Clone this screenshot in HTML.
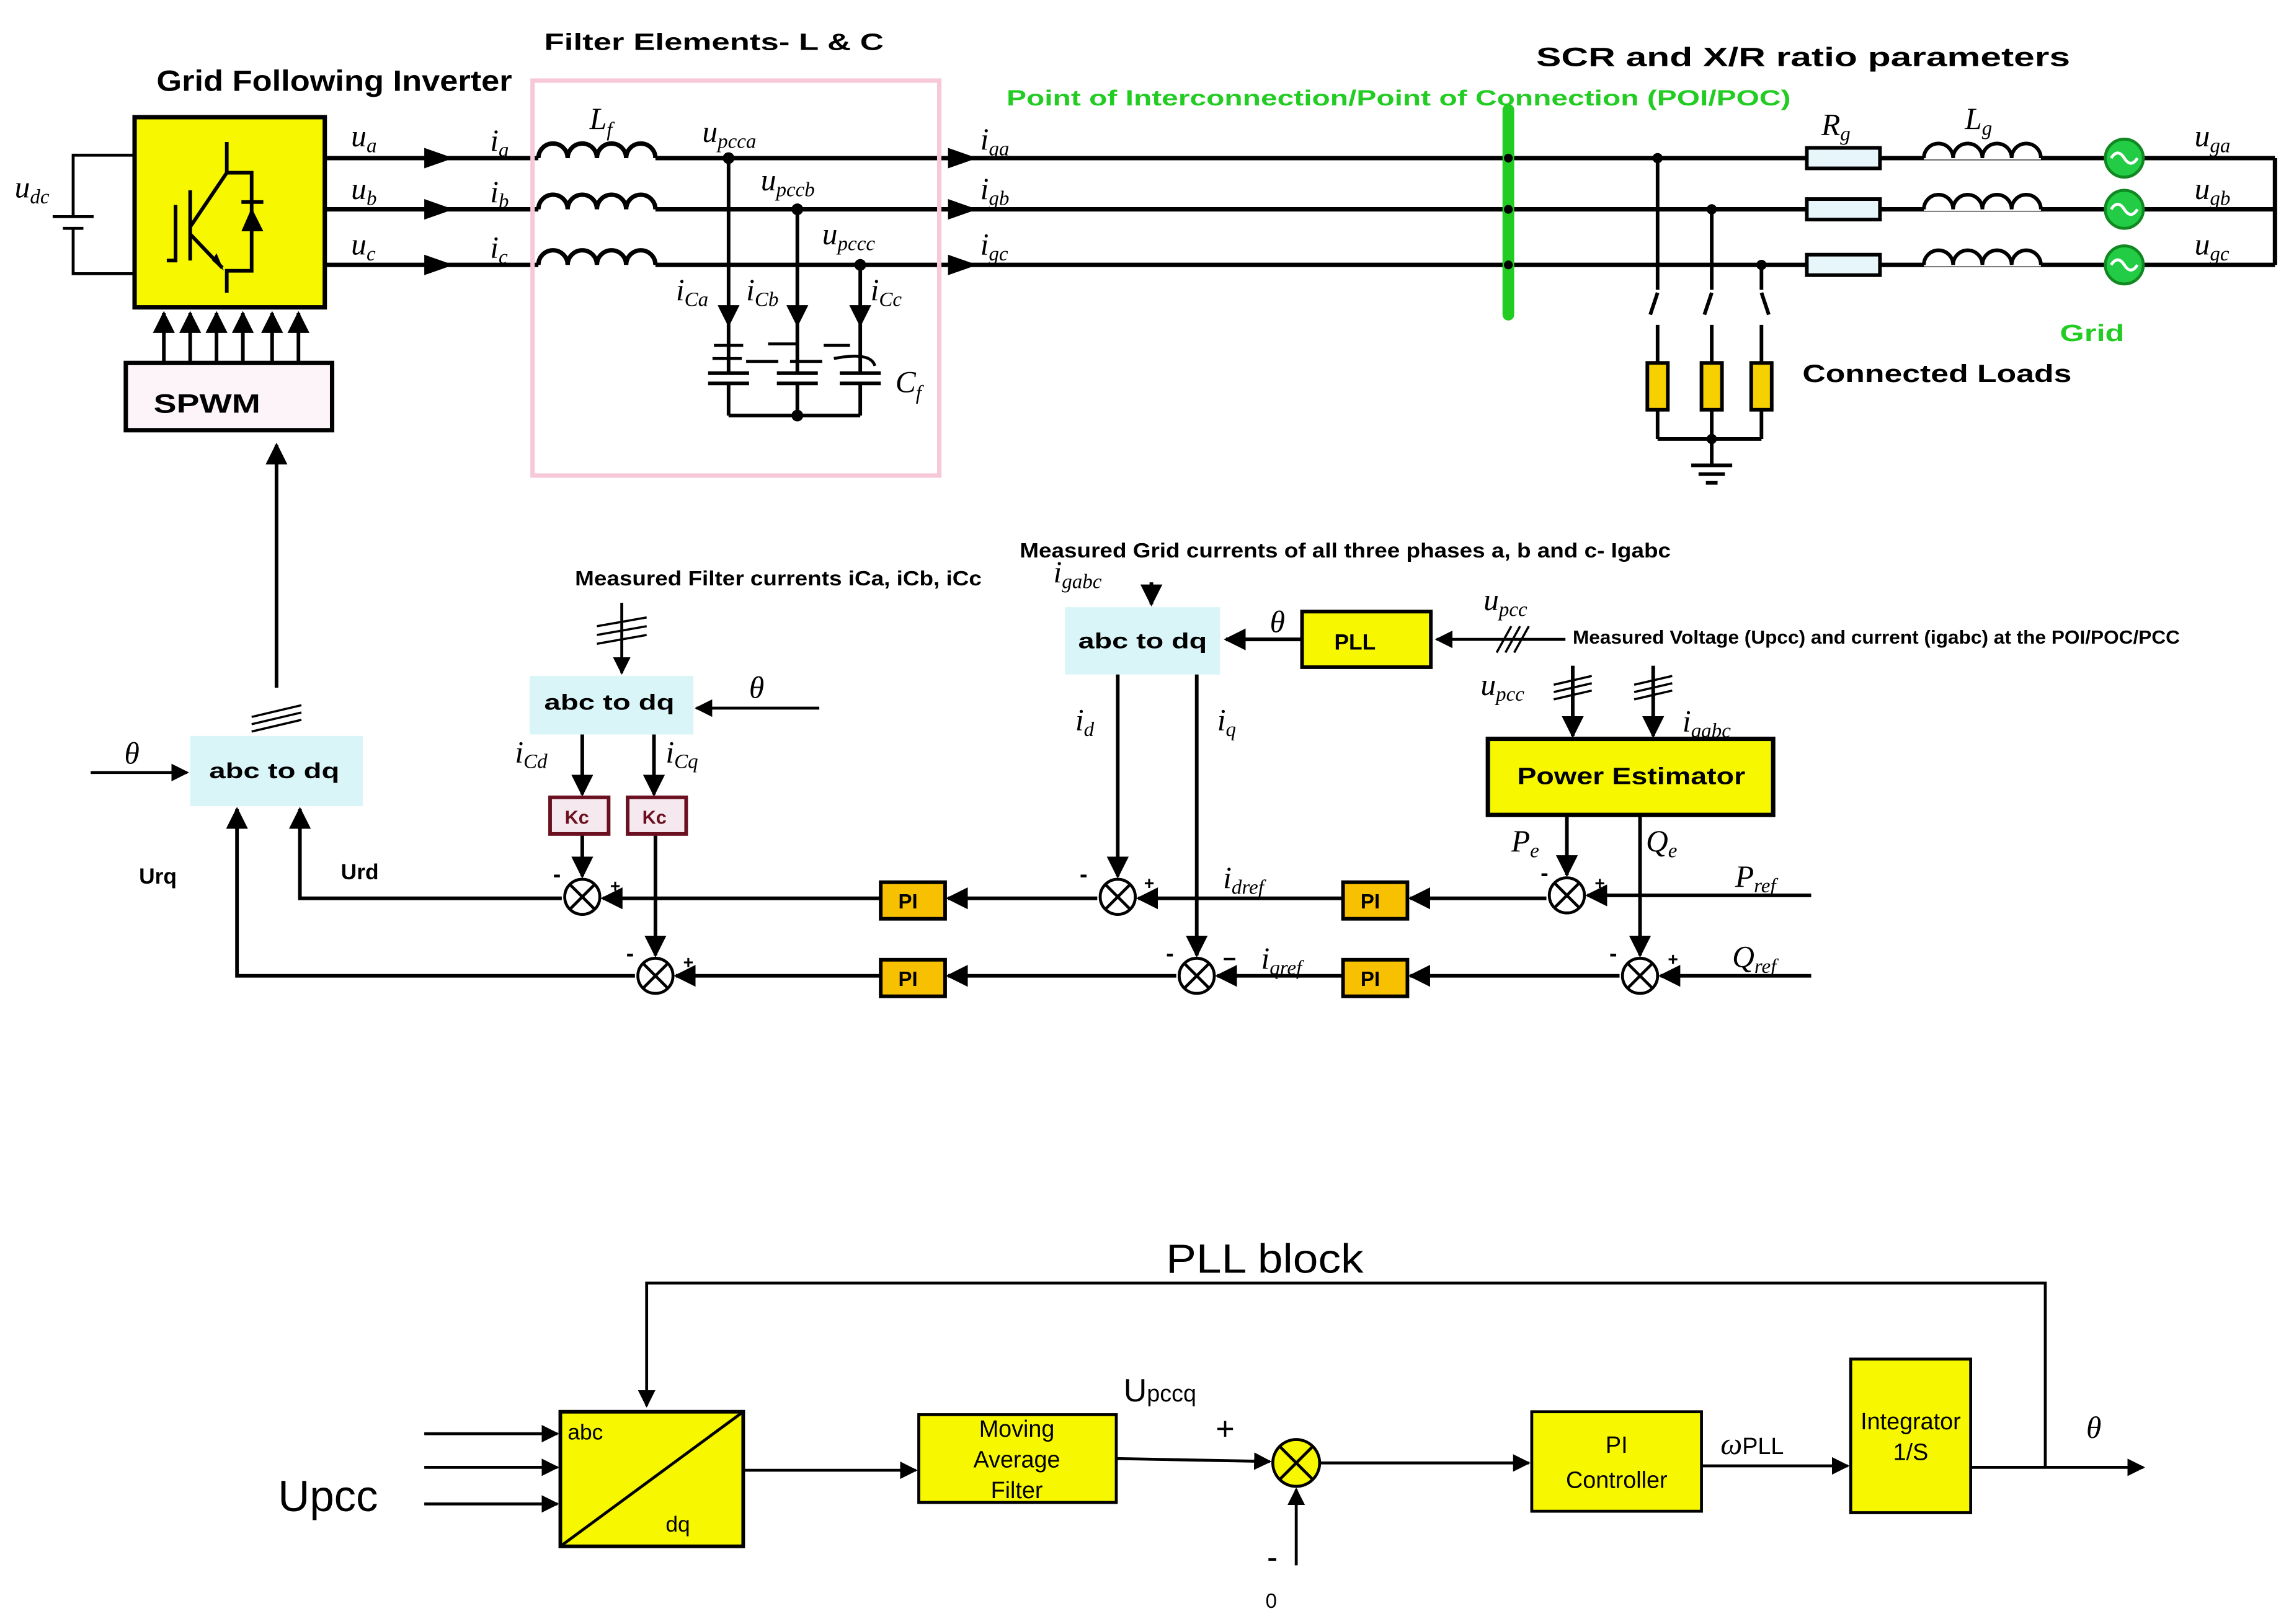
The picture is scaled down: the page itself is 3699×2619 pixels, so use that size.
<!DOCTYPE html>
<html><head><meta charset="utf-8"><style>
html,body{margin:0;padding:0;background:#fff;}
svg{display:block;}
text{font-family:"Liberation Sans",sans-serif;}
.m{font-family:"Liberation Serif",serif;font-style:italic;font-size:21px;}
.b{font-weight:bold;}
</style></head><body>
<svg width="3699" height="2619" viewBox="0 0 1568 1110" xmlns="http://www.w3.org/2000/svg">
<defs>
<marker id="a" viewBox="0 0 10 10" refX="9" refY="5" markerWidth="6" markerHeight="6" orient="auto-start-reverse"><path d="M0,0L10,5L0,10z" fill="#000"/></marker>
</defs>
<rect width="1568" height="1110" fill="#fff"/>
<!-- Titles -->
<text x="107" y="62" font-size="20" class="b" textLength="243" lengthAdjust="spacingAndGlyphs">Grid Following Inverter</text>
<text x="372" y="34" font-size="16" class="b" textLength="232" lengthAdjust="spacingAndGlyphs">Filter Elements- L &amp; C</text>
<text x="1050" y="45" font-size="18" class="b" textLength="365" lengthAdjust="spacingAndGlyphs">SCR and X/R ratio parameters</text>
<text x="688" y="72" font-size="15" class="b" fill="#22cc22" textLength="536" lengthAdjust="spacingAndGlyphs">Point of Interconnection/Point of Connection (POI/POC)</text>
<!-- DC side -->
<g stroke="#000" stroke-width="2" fill="none">
<polyline points="92,106 50,106 50,148"/><polyline points="50,156 50,187 92,187"/>
<line x1="36" y1="148" x2="64" y2="148"/><line x1="43" y1="156" x2="57" y2="156"/>
</g>
<text x="10" y="135" class="m">u<tspan font-size="14" dy="4">dc</tspan></text>
<!-- Inverter -->
<rect x="92" y="80" width="130" height="130" fill="#f7f700" stroke="#000" stroke-width="3"/>
<g stroke="#000" stroke-width="2.5" fill="none">
<polyline points="155,97 155,118 172,118 172,185 155,185 155,200"/>
<line x1="155" y1="118" x2="130" y2="155"/><line x1="130" y1="130" x2="130" y2="178"/>
<polyline points="120,140 120,178 114,178"/>
<line x1="130" y1="160" x2="152" y2="183"/>
<line x1="165" y1="138" x2="180" y2="138"/>
</g>
<path d="M165,158 L180,158 L172,142z" fill="#000"/>
<path d="M145,178 L153,185 L148,173z" fill="#000"/>
<!-- Phase lines -->
<g stroke="#000" stroke-width="3" fill="none">
<line x1="222" y1="108" x2="368" y2="108"/><line x1="222" y1="143" x2="368" y2="143"/><line x1="222" y1="181" x2="368" y2="181"/>
<path d="M368,108 a10,10 0 0 1 20,0 a10,10 0 0 1 20,0 a10,10 0 0 1 20,0 a10,10 0 0 1 20,0 M448,108 L1555,108"/>
<path d="M368,143 a10,10 0 0 1 20,0 a10,10 0 0 1 20,0 a10,10 0 0 1 20,0 a10,10 0 0 1 20,0 M448,143 L1555,143"/>
<path d="M368,181 a10,10 0 0 1 20,0 a10,10 0 0 1 20,0 a10,10 0 0 1 20,0 a10,10 0 0 1 20,0 M448,181 L1555,181"/>
<line x1="1555" y1="108" x2="1555" y2="181"/>
</g>
<g fill="#000">
<path d="M290,101L310,108L290,115z"/><path d="M290,136L310,143L290,150z"/><path d="M290,174L310,181L290,188z"/>
<path d="M648,101L668,108L648,115z"/><path d="M648,136L668,143L648,150z"/><path d="M648,174L668,181L648,188z"/>
</g>
<text x="240" y="100" class="m">u<tspan font-size="14" dy="4">a</tspan></text>
<text x="240" y="136" class="m">u<tspan font-size="14" dy="4">b</tspan></text>
<text x="240" y="174" class="m">u<tspan font-size="14" dy="4">c</tspan></text>
<text x="335" y="103" class="m">i<tspan font-size="14" dy="4">a</tspan></text>
<text x="335" y="138" class="m">i<tspan font-size="14" dy="4">b</tspan></text>
<text x="335" y="176" class="m">i<tspan font-size="14" dy="4">c</tspan></text>
<!-- Filter box -->
<rect x="364" y="55" width="278" height="270" fill="none" stroke="#f6c8d8" stroke-width="3"/>
<text x="403" y="88" class="m" font-size="23">L<tspan font-size="14" dy="5">f</tspan></text>
<text x="480" y="97" class="m">u<tspan font-size="14" dy="4">pcca</tspan></text>
<text x="520" y="130" class="m">u<tspan font-size="14" dy="4">pccb</tspan></text>
<text x="562" y="167" class="m">u<tspan font-size="14" dy="4">pccc</tspan></text>
<g stroke="#000" stroke-width="2.5" fill="none">
<line x1="498" y1="108" x2="498" y2="222" marker-end="url(#a)"/><line x1="498" y1="222" x2="498" y2="255"/>
<line x1="545" y1="143" x2="545" y2="222" marker-end="url(#a)"/><line x1="545" y1="222" x2="545" y2="255"/>
<line x1="588" y1="181" x2="588" y2="222" marker-end="url(#a)"/><line x1="588" y1="222" x2="588" y2="255"/>
<line x1="498" y1="262" x2="498" y2="284"/><line x1="545" y1="262" x2="545" y2="284"/><line x1="588" y1="262" x2="588" y2="284"/>
<line x1="498" y1="284" x2="588" y2="284"/>
<line x1="484" y1="255" x2="512" y2="255"/><line x1="484" y1="262" x2="512" y2="262"/>
<line x1="531" y1="255" x2="559" y2="255"/><line x1="531" y1="262" x2="559" y2="262"/>
<line x1="574" y1="255" x2="602" y2="255"/><line x1="574" y1="262" x2="602" y2="262"/>
<path d="M488,236h20M525,235h20M563,236h18M487,245h20M510,247h22M540,247h22M570,245q25,-5 28,5" stroke-width="2"/>
</g>
<g fill="#000"><circle cx="498" cy="108" r="4"/><circle cx="545" cy="143" r="4"/><circle cx="588" cy="181" r="4"/><circle cx="545" cy="284" r="4"/></g>
<text x="462" y="205" class="m">i<tspan font-size="14" dy="4">Ca</tspan></text>
<text x="510" y="205" class="m">i<tspan font-size="14" dy="4">Cb</tspan></text>
<text x="595" y="205" class="m">i<tspan font-size="14" dy="4">Cc</tspan></text>
<text x="612" y="268" class="m" font-size="23">C<tspan font-size="14" dy="5">f</tspan></text>
<text x="670" y="102" class="m">i<tspan font-size="14" dy="4">ga</tspan></text>
<text x="670" y="136" class="m">i<tspan font-size="14" dy="4">gb</tspan></text>
<text x="670" y="174" class="m">i<tspan font-size="14" dy="4">gc</tspan></text>
<!-- POI bar -->
<line x1="1031" y1="75" x2="1031" y2="215" stroke="#22cc22" stroke-width="8" stroke-linecap="round"/>
<g fill="#000"><circle cx="1031" cy="108" r="3"/><circle cx="1031" cy="143" r="3"/><circle cx="1031" cy="181" r="3"/></g>
<!-- Loads -->
<g stroke="#000" stroke-width="2.5" fill="none">
<line x1="1133" y1="108" x2="1133" y2="198"/><line x1="1170" y1="143" x2="1170" y2="198"/><line x1="1204" y1="181" x2="1204" y2="198"/>
<line x1="1133" y1="200" x2="1128" y2="215"/><line x1="1170" y1="200" x2="1165" y2="215"/><line x1="1204" y1="200" x2="1209" y2="215"/>
<line x1="1133" y1="222" x2="1133" y2="248"/><line x1="1170" y1="222" x2="1170" y2="248"/><line x1="1204" y1="222" x2="1204" y2="248"/>
<line x1="1133" y1="280" x2="1133" y2="300"/><line x1="1170" y1="280" x2="1170" y2="318"/><line x1="1204" y1="280" x2="1204" y2="300"/>
<line x1="1133" y1="300" x2="1204" y2="300"/>
<line x1="1156" y1="318" x2="1184" y2="318"/><line x1="1161" y1="324" x2="1179" y2="324"/><line x1="1166" y1="330" x2="1174" y2="330"/>
</g>
<g fill="#f7d000" stroke="#000" stroke-width="2.5">
<rect x="1126" y="248" width="14" height="32"/><rect x="1163" y="248" width="14" height="32"/><rect x="1197" y="248" width="14" height="32"/>
</g>
<g fill="#000"><circle cx="1133" cy="108" r="3.5"/><circle cx="1170" cy="143" r="3.5"/><circle cx="1204" cy="181" r="3.5"/><circle cx="1170" cy="300" r="3.5"/></g>
<text x="1232" y="261" font-size="17" class="b" textLength="184" lengthAdjust="spacingAndGlyphs">Connected Loads</text>
<!-- Rg Lg sources -->
<g fill="#e6f6fb" stroke="#000" stroke-width="2.5">
<rect x="1235" y="101" width="50" height="14"/><rect x="1235" y="136" width="50" height="14"/><rect x="1235" y="174" width="50" height="14"/>
</g>
<g fill="#fff" stroke="none"><rect x="1315" y="95" width="80" height="14"/><rect x="1315" y="130" width="80" height="14"/><rect x="1315" y="168" width="80" height="14"/></g>
<g stroke="#000" stroke-width="2.5" fill="none">
<path d="M1315,108 a10,10 0 0 1 20,0 a10,10 0 0 1 20,0 a10,10 0 0 1 20,0 a10,10 0 0 1 20,0"/>
<path d="M1315,143 a10,10 0 0 1 20,0 a10,10 0 0 1 20,0 a10,10 0 0 1 20,0 a10,10 0 0 1 20,0"/>
<path d="M1315,181 a10,10 0 0 1 20,0 a10,10 0 0 1 20,0 a10,10 0 0 1 20,0 a10,10 0 0 1 20,0"/>
</g>
<g fill="#22cc44" stroke="#118822" stroke-width="2">
<circle cx="1452" cy="108" r="13"/><circle cx="1452" cy="143" r="13"/><circle cx="1452" cy="181" r="13"/>
</g>
<g stroke="#fff" stroke-width="2" fill="none">
<path d="M1443,108q4.5,-7 9,0t9,0"/><path d="M1443,143q4.5,-7 9,0t9,0"/><path d="M1443,181q4.5,-7 9,0t9,0"/>
</g>
<text x="1245" y="92" class="m">R<tspan font-size="14" dy="4">g</tspan></text>
<text x="1343" y="88" class="m">L<tspan font-size="14" dy="4">g</tspan></text>
<text x="1500" y="100" class="m">u<tspan font-size="14" dy="4">ga</tspan></text>
<text x="1500" y="136" class="m">u<tspan font-size="14" dy="4">gb</tspan></text>
<text x="1500" y="174" class="m">u<tspan font-size="14" dy="4">gc</tspan></text>
<text x="1408" y="233" font-size="16" class="b" fill="#22cc22" textLength="44" lengthAdjust="spacingAndGlyphs">Grid</text>
<!-- gate arrows and SPWM -->
<g stroke="#000" stroke-width="2.5" marker-end="url(#a)">
<line x1="112" y1="248" x2="112" y2="214"/><line x1="130" y1="248" x2="130" y2="214"/><line x1="148" y1="248" x2="148" y2="214"/>
<line x1="166" y1="248" x2="166" y2="214"/><line x1="186" y1="248" x2="186" y2="214"/><line x1="204" y1="248" x2="204" y2="214"/>
<line x1="189" y1="470" x2="189" y2="304"/>
</g>
<rect x="86" y="248" width="141" height="46" fill="#fdf4fa" stroke="#000" stroke-width="3"/>
<text x="105" y="282" font-size="18" class="b" textLength="73" lengthAdjust="spacingAndGlyphs">SPWM</text>
<!-- control: abc to dq boxes -->
<g fill="#d9f5f8">
<rect x="130" y="503" width="118" height="48"/><rect x="362" y="462" width="112" height="40"/><rect x="728" y="415" width="106" height="46"/>
</g>
<text x="143" y="532" font-size="15" class="b" textLength="89" lengthAdjust="spacingAndGlyphs">abc to dq</text>
<text x="372" y="485" font-size="15" class="b" textLength="89" lengthAdjust="spacingAndGlyphs">abc to dq</text>
<text x="737" y="443" font-size="15" class="b" textLength="88" lengthAdjust="spacingAndGlyphs">abc to dq</text>
<text x="85" y="522" class="m">θ</text>
<line x1="62" y1="528" x2="128" y2="528" stroke="#000" stroke-width="2" marker-end="url(#a)"/>
<g stroke="#000" stroke-width="1.5"><line x1="172" y1="490" x2="206" y2="482"/><line x1="172" y1="495" x2="206" y2="487"/><line x1="172" y1="500" x2="206" y2="492"/></g>
<text x="393" y="400" font-size="14" class="b" textLength="278" lengthAdjust="spacingAndGlyphs">Measured Filter currents iCa, iCb, iCc</text>
<line x1="425" y1="412" x2="425" y2="460" stroke="#000" stroke-width="2" marker-end="url(#a)"/>
<g stroke="#000" stroke-width="1.5"><line x1="408" y1="428" x2="442" y2="422"/><line x1="408" y1="434" x2="442" y2="428"/><line x1="408" y1="440" x2="442" y2="434"/></g>
<text x="512" y="477" class="m">θ</text>
<line x1="560" y1="484" x2="476" y2="484" stroke="#000" stroke-width="2" marker-end="url(#a)"/>
<text x="352" y="521" class="m">i<tspan font-size="14" dy="4">Cd</tspan></text>
<text x="455" y="521" class="m">i<tspan font-size="14" dy="4">Cq</tspan></text>
<g stroke="#000" stroke-width="2.5" fill="none">
<line x1="398" y1="502" x2="398" y2="543" marker-end="url(#a)"/><line x1="447" y1="502" x2="447" y2="543" marker-end="url(#a)"/>
<line x1="398" y1="570" x2="398" y2="599" marker-end="url(#a)"/><line x1="448" y1="570" x2="448" y2="653" marker-end="url(#a)"/>
</g>
<g fill="#f5e8ee" stroke="#6a1020" stroke-width="2.5"><rect x="376" y="545" width="40" height="25"/><rect x="429" y="545" width="40" height="25"/></g>
<text x="386" y="563" font-size="13" class="b" fill="#6a1020">Kc</text>
<text x="439" y="563" font-size="13" class="b" fill="#6a1020">Kc</text>
<!-- right side measurement -->
<text x="697" y="381" font-size="14" class="b" textLength="445" lengthAdjust="spacingAndGlyphs">Measured Grid currents of all three phases a, b and c- Igabc</text>
<text x="720" y="398" class="m">i<tspan font-size="14" dy="4">gabc</tspan></text>
<line x1="787" y1="398" x2="787" y2="413" stroke="#000" stroke-width="2.5" marker-end="url(#a)"/>
<rect x="890" y="418" width="88" height="38" fill="#f7f700" stroke="#000" stroke-width="2.5"/>
<text x="912" y="444" font-size="15" class="b">PLL</text>
<text x="868" y="432" class="m">θ</text>
<line x1="890" y1="437" x2="838" y2="437" stroke="#000" stroke-width="2.5" marker-end="url(#a)"/>
<line x1="1070" y1="437" x2="982" y2="437" stroke="#000" stroke-width="2" marker-end="url(#a)"/>
<g stroke="#000" stroke-width="1.5"><line x1="1023" y1="446" x2="1033" y2="428"/><line x1="1029" y1="446" x2="1039" y2="428"/><line x1="1035" y1="446" x2="1045" y2="428"/></g>
<text x="1014" y="417" class="m">u<tspan font-size="14" dy="4">pcc</tspan></text>
<text x="1075" y="440" font-size="13" class="b" textLength="415" lengthAdjust="spacingAndGlyphs">Measured Voltage (Upcc) and current (igabc) at the POI/POC/PCC</text>
<text x="1012" y="475" class="m">u<tspan font-size="14" dy="4">pcc</tspan></text>
<text x="1150" y="500" class="m">i<tspan font-size="14" dy="4">gabc</tspan></text>
<g stroke="#000" stroke-width="2.5"><line x1="1075" y1="455" x2="1075" y2="503" marker-end="url(#a)"/><line x1="1130" y1="455" x2="1130" y2="503" marker-end="url(#a)"/></g>
<g stroke="#000" stroke-width="1.5"><line x1="1062" y1="468" x2="1088" y2="462"/><line x1="1062" y1="473" x2="1088" y2="467"/><line x1="1062" y1="478" x2="1088" y2="472"/>
<line x1="1117" y1="468" x2="1143" y2="462"/><line x1="1117" y1="473" x2="1143" y2="467"/><line x1="1117" y1="478" x2="1143" y2="472"/></g>
<rect x="1017" y="505" width="195" height="52" fill="#f7f700" stroke="#000" stroke-width="3"/>
<text x="1037" y="536" font-size="16" class="b" textLength="156" lengthAdjust="spacingAndGlyphs">Power Estimator</text>
<text x="1033" y="582" class="m">P<tspan font-size="14" dy="4">e</tspan></text>
<text x="1125" y="582" class="m">Q<tspan font-size="14" dy="4">e</tspan></text>
<text x="735" y="499" class="m">i<tspan font-size="14" dy="4">d</tspan></text>
<text x="832" y="499" class="m">i<tspan font-size="14" dy="4">q</tspan></text>
<!-- control loops -->
<g stroke="#000" stroke-width="2.5" fill="none">
<line x1="764" y1="461" x2="764" y2="599" marker-end="url(#a)"/>
<line x1="818" y1="461" x2="818" y2="653" marker-end="url(#a)"/>
<line x1="1071" y1="557" x2="1071" y2="598" marker-end="url(#a)"/>
<line x1="1121" y1="557" x2="1121" y2="653" marker-end="url(#a)"/>
<line x1="1238" y1="612" x2="1085" y2="612" marker-end="url(#a)"/>
<line x1="1238" y1="667" x2="1135" y2="667" marker-end="url(#a)"/>
<line x1="1057" y1="614" x2="964" y2="614" marker-end="url(#a)"/>
<line x1="1107" y1="667" x2="964" y2="667" marker-end="url(#a)"/>
<line x1="918" y1="614" x2="778" y2="614" marker-end="url(#a)"/>
<line x1="918" y1="667" x2="832" y2="667" marker-end="url(#a)"/>
<line x1="750" y1="614" x2="648" y2="614" marker-end="url(#a)"/>
<line x1="804" y1="667" x2="648" y2="667" marker-end="url(#a)"/>
<line x1="602" y1="614" x2="412" y2="614" marker-end="url(#a)"/>
<line x1="602" y1="667" x2="462" y2="667" marker-end="url(#a)"/>
<polyline points="384,614 205,614 205,553" marker-end="url(#a)"/>
<polyline points="434,667 162,667 162,553" marker-end="url(#a)"/>
</g>
<g fill="#fff" stroke="#000" stroke-width="2">
<circle cx="398" cy="613" r="12"/><circle cx="448" cy="667" r="12"/><circle cx="764" cy="613" r="12"/><circle cx="818" cy="667" r="12"/><circle cx="1071" cy="612" r="12"/><circle cx="1121" cy="667" r="12"/>
</g>
<g stroke="#000" stroke-width="2">
<path d="M390,605l16,16M406,605l-16,16M440,659l16,16M456,659l-16,16M756,605l16,16M772,605l-16,16M810,659l16,16M826,659l-16,16M1063,604l16,16M1079,604l-16,16M1113,659l16,16M1129,659l-16,16"/>
</g>
<g font-size="16" class="b">
<text x="378" y="603">-</text><text x="417" y="610" font-size="12">+</text>
<text x="428" y="657">-</text><text x="467" y="662" font-size="12">+</text>
<text x="738" y="603">-</text><text x="782" y="608" font-size="12">+</text>
<text x="797" y="657">-</text><text x="836" y="660">–</text>
<text x="1053" y="602">-</text><text x="1090" y="608" font-size="12">+</text>
<text x="1100" y="657">-</text><text x="1140" y="660" font-size="12">+</text>
</g>
<g fill="#f7c000" stroke="#000" stroke-width="2.5">
<rect x="602" y="603" width="44" height="25"/><rect x="602" y="656" width="44" height="25"/><rect x="918" y="603" width="44" height="25"/><rect x="918" y="656" width="44" height="25"/>
</g>
<g font-size="14" class="b"><text x="614" y="621">PI</text><text x="614" y="674">PI</text><text x="930" y="621">PI</text><text x="930" y="674">PI</text></g>
<text x="836" y="607" class="m">i<tspan font-size="14" dy="4">dref</tspan></text>
<text x="862" y="662" class="m">i<tspan font-size="14" dy="4">qref</tspan></text>
<text x="1186" y="606" class="m">P<tspan font-size="14" dy="4">ref</tspan></text>
<text x="1184" y="661" class="m">Q<tspan font-size="14" dy="4">ref</tspan></text>
<text x="95" y="604" font-size="15" class="b">Urq</text>
<text x="233" y="601" font-size="15" class="b">Urd</text>
<!-- PLL block -->
<text x="797" y="870" font-size="28" textLength="135" lengthAdjust="spacingAndGlyphs">PLL block</text>
<polyline points="1398,1003 1398,877 442,877 442,961" stroke="#000" stroke-width="2" fill="none" marker-end="url(#a)"/>
<rect x="383" y="965" width="125" height="92" fill="#f7f700" stroke="#000" stroke-width="2.5"/>
<line x1="383" y1="1057" x2="508" y2="965" stroke="#000" stroke-width="2"/>
<text x="388" y="984" font-size="15">abc</text><text x="455" y="1047" font-size="15">dq</text>
<text x="190" y="1033" font-size="30">Upcc</text>
<g stroke="#000" stroke-width="2" marker-end="url(#a)">
<line x1="290" y1="980" x2="381" y2="980"/><line x1="290" y1="1003" x2="381" y2="1003"/><line x1="290" y1="1028" x2="381" y2="1028"/>
<line x1="508" y1="1005" x2="626" y2="1005"/><line x1="763" y1="997" x2="868" y2="999"/><line x1="902" y1="1000" x2="1045" y2="1000"/>
<line x1="1163" y1="1002" x2="1263" y2="1002"/><line x1="1347" y1="1003" x2="1465" y2="1003"/><line x1="886" y1="1070" x2="886" y2="1018"/>
</g>
<rect x="628" y="967" width="135" height="60" fill="#f7f700" stroke="#000" stroke-width="2"/>
<text x="695" y="982" font-size="16" text-anchor="middle">Moving</text>
<text x="695" y="1003" font-size="16" text-anchor="middle">Average</text>
<text x="695" y="1024" font-size="16" text-anchor="middle">Filter</text>
<text x="768" y="958" font-size="22">U<tspan font-size="16">pccq</tspan></text>
<text x="831" y="984" font-size="22">+</text>
<circle cx="886" cy="1000" r="16" fill="#f7f700" stroke="#000" stroke-width="2"/>
<path d="M875,989l22,22M897,989l-22,22" stroke="#000" stroke-width="2"/>
<text x="866" y="1072" font-size="22">-</text>
<text x="865" y="1099" font-size="14">0</text>
<rect x="1047" y="965" width="116" height="68" fill="#f7f700" stroke="#000" stroke-width="2"/>
<text x="1105" y="993" font-size="16" text-anchor="middle">PI</text>
<text x="1105" y="1017" font-size="16" text-anchor="middle">Controller</text>
<text x="1176" y="994" font-size="32" class="m" font-style="italic">ω<tspan font-size="16" font-style="normal" font-family="Liberation Sans">PLL</tspan></text>
<rect x="1265" y="929" width="82" height="105" fill="#f7f700" stroke="#000" stroke-width="2"/>
<text x="1306" y="977" font-size="16" text-anchor="middle">Integrator</text>
<text x="1306" y="998" font-size="16" text-anchor="middle">1/S</text>
<text x="1426" y="983" class="m">θ</text>
</svg>
</body></html>
